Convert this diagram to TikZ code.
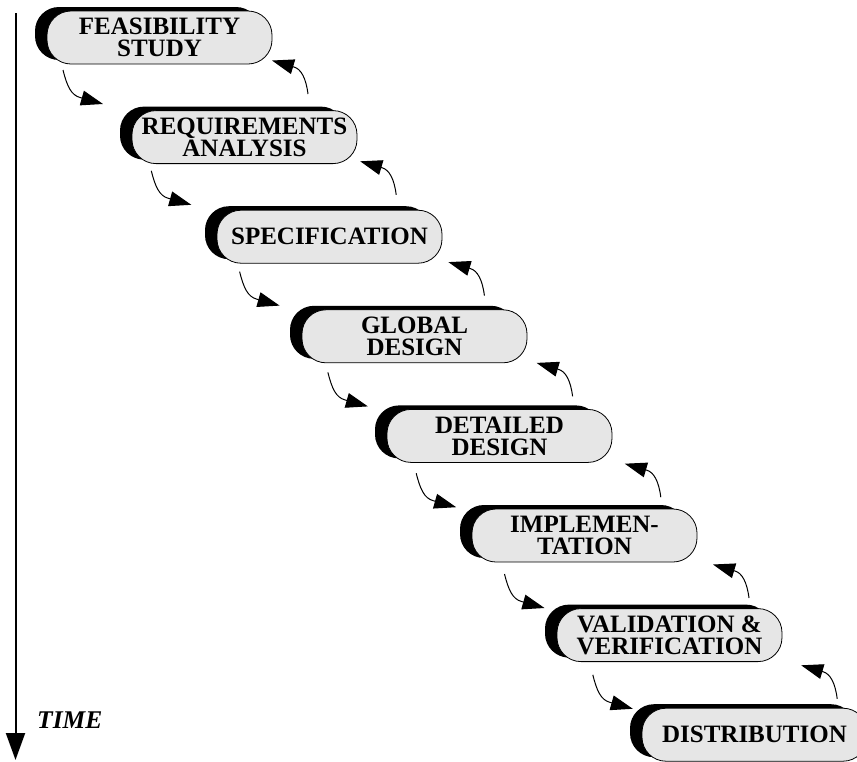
\documentclass[tikz,border=0pt]{standalone}
\usepackage{fontspec}
\setmainfont{Liberation Serif}
\usetikzlibrary{arrows.meta,shadows,calc}
\definecolor{boxgray}{RGB}{230,230,230}
\tikzset{
  stage/.style={draw=black, line width=0.8pt, fill=boxgray, rounded corners=24pt,
    minimum width=225pt, minimum height=53pt, inner sep=0pt, align=center,
    font=\bfseries\fontsize{25}{22}\selectfont,
    general shadow={fill=black, shadow xshift=-12pt, shadow yshift=4pt}},
  conn/.style={line width=1pt, -{Triangle[length=22pt,width=15pt]}},
  timeaxis/.style={line width=2pt, -{Triangle[length=27pt,width=19pt]}}
}
\begin{document}
\begin{tikzpicture}[x=1pt,y=-1pt]
\useasboundingbox (0,0) rectangle (857,761);
\clip (0,0) rectangle (857,761);
% stages
\node[stage] (b0) at (159.5,37.5) {FEASIBILITY\\STUDY};
\node[stage] (b1) at (244.5,137.1) {REQUIREMENTS\\ANALYSIS};
\node[stage] (b2) at (329.5,236.7) {SPECIFICATION};
\node[stage] (b3) at (414.5,336.3) {GLOBAL\\DESIGN};
\node[stage] (b4) at (499.5,435.9) {DETAILED\\DESIGN};
\node[stage] (b5) at (584.5,535.5) {IMPLEMEN-\\TATION};
\node[stage] (b6) at (669.5,635.1) {VALIDATION \&\\VERIFICATION};
\node[stage] (b7) at (754.5,734.7) {DISTRIBUTION};
% forward (down) arrows
\foreach \i in {0,...,6} {
  \pgfmathsetmacro\sx{63+88.3*\i}
  \pgfmathsetmacro\sy{70+100.8*\i}
  \coordinate (ds\i) at (\sx,\sy);
  \coordinate (db\i) at ($(ds\i)+(17,27.5)$);
  \coordinate (dt\i) at ($(ds\i)+(40,34)$);
  \draw[conn] (ds\i) .. controls ($(ds\i)+(4,16)$) and ($(db\i)+(-9,-2.5)$) .. (db\i) -- (dt\i);
}
% feedback (up) arrows
\foreach \j in {0,...,6} {
  \pgfmathsetmacro\ux{308+88.2*\j}
  \pgfmathsetmacro\uy{94+100.8*\j}
  \coordinate (us\j) at (\ux,\uy);
  \coordinate (ub\j) at ($(us\j)+(-14,-27)$);
  \coordinate (ut\j) at ($(us\j)+(-36,-33.5)$);
  \draw[conn] (us\j) .. controls ($(us\j)+(-2,-16)$) and ($(ub\j)+(7,2)$) .. (ub\j) -- (ut\j);
}
% time axis
\coordinate (t0) at (15.5,13);
\coordinate (t1) at (15.5,760);
\draw[timeaxis] (t0) -- (t1);
\node[anchor=base west, inner sep=0pt, font=\bfseries\itshape\fontsize{25.5}{25.5}\selectfont] (time) at (37,728) {TIME};
\end{tikzpicture}
\end{document}
